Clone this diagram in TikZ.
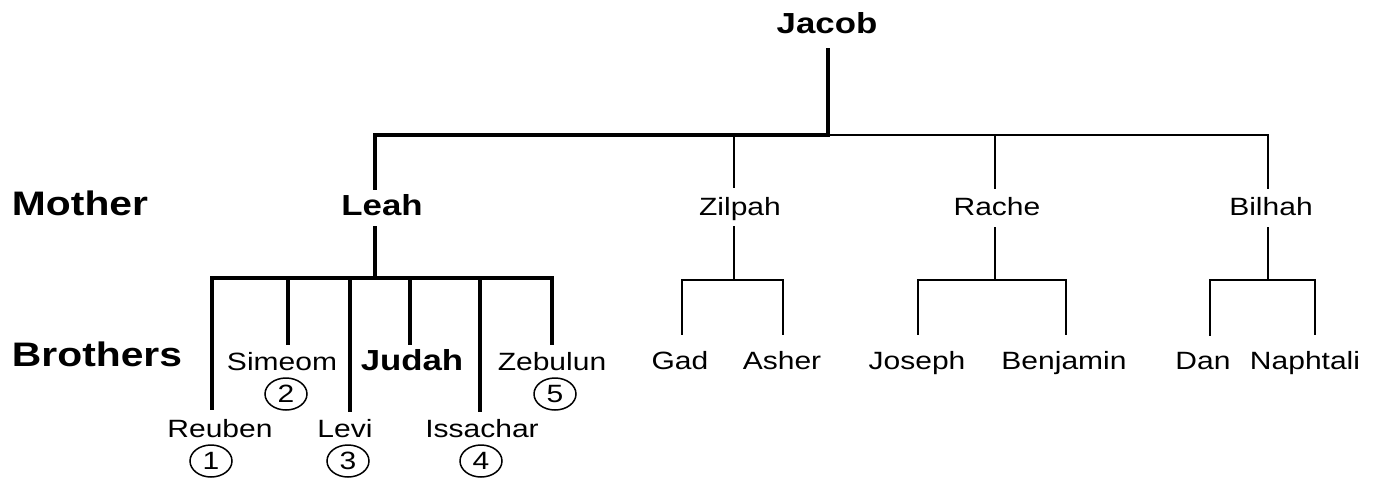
\documentclass[tikz,border=0pt]{standalone}
\usepackage{fontspec}
\newfontfamily\namefont[FakeStretch=1.2]{Liberation Sans}
\usetikzlibrary{shapes.geometric,calc}
\tikzset{
 every node/.style={inner sep=0pt, outer sep=0pt},
 nm/.style={font=\namefont\fontsize{25pt}{30pt}\selectfont, anchor=base},
 bnm/.style={font=\namefont\bfseries\fontsize{29pt}{34pt}\selectfont, anchor=base},
 hdr/.style={font=\namefont\bfseries\fontsize{34pt}{40pt}\selectfont, anchor=base west},
 num/.style={ellipse, draw, line width=1.5pt, minimum width=42pt, minimum height=32pt, font=\namefont\fontsize{25pt}{30pt}\selectfont},
 thk/.style={line width=4.5pt},
 thn/.style={line width=2.2pt},
}
\begin{document}
\begin{tikzpicture}[x=1pt,y=-1pt]
\useasboundingbox (0,0) rectangle (1376,480);
% headers
\node[hdr] (mother) at (12,215) {Mother};
\node[hdr] (brothers) at (12,366) {Brothers};
% names
\node[bnm] (jacob) at (827,33) {Jacob};
\node[bnm] (leah) at (382,215) {Leah};
\node[nm] (zilpah) at (740,215) {Zilpah};
\node[nm] (rache) at (997,215) {Rache};
\node[nm] (bilhah) at (1271,215) {Bilhah};
\node[nm] (simeom) at (282,370) {Simeom};
\node[bnm] (judah) at (412,370) {Judah};
\node[nm] (zebulun) at (552,370) {Zebulun};
\node[nm] (reuben) at (220,437) {Reuben};
\node[nm] (levi) at (345,437) {Levi};
\node[nm] (issachar) at (482,437) {Issachar};
\node[nm] (gad) at (680,369) {Gad};
\node[nm] (asher) at (782,369) {Asher};
\node[nm] (joseph) at (917,369) {Joseph};
\node[nm] (benjamin) at (1064,369) {Benjamin};
\node[nm] (dan) at (1203,369) {Dan};
\node[nm] (naphtali) at (1305,369) {Naphtali};
% birth order
\node[num] (n1) at (211,461) {1};
\node[num] (n2) at (286,394) {2};
\node[num] (n3) at (348,461) {3};
\node[num] (n4) at (481,461) {4};
\node[num] (n5) at (555,394) {5};
% junctions
\coordinate (jbar) at (828,135);
\coordinate (lbar) at (375,278);
\coordinate (zbar) at (734,280);
\coordinate (rbar) at (995,280);
\coordinate (bbar) at (1268,280);
% Jacob to mothers
\draw[thk] ($(jacob.south)+(1,15)$) -- (jbar) -| ($(leah.north)+(-7,-4)$);
\draw[thn] (jbar) -| ($(bilhah.north)+(-3,-8)$);
\draw[thn] ($(zilpah.north)+(-6,-9)$) coordinate (t) -- (t |- jbar);
\draw[thn] ($(rache.north)+(-2,-8)$) coordinate (t) -- (t |- jbar);
% Leah
\draw[thk] ($(leah.south)+(-7,11)$) -- (lbar);
\draw[thk] ($(reuben.north)+(-8,-9)$) |- (lbar) -| ($(zebulun.north)+(0,-7)$);
\draw[thk] ($(simeom.north)+(6,-7)$) coordinate (t) -- (t |- lbar);
\draw[thk] ($(levi.north)+(5,-7)$) coordinate (t) -- (t |- lbar);
\draw[thk] ($(judah.north)+(-2,-4)$) coordinate (t) -- (t |- lbar);
\draw[thk] ($(issachar.north)+(-2,-7)$) coordinate (t) -- (t |- lbar);
% Zilpah
\draw[thn] ($(zilpah.south)+(-6,6)$) -- (zbar);
\draw[thn] ($(gad.north)+(2,-16)$) |- (zbar) -| ($(asher.north)+(1,-16)$);
% Rache
\draw[thn] ($(rache.south)+(-2,12)$) -- (rbar);
\draw[thn] ($(joseph.north)+(1,-16)$) |- (rbar) -| ($(benjamin.north)+(2,-16)$);
% Bilhah
\draw[thn] ($(bilhah.south)+(-3,12)$) -- (bbar);
\draw[thn] ($(dan.north)+(7,-16)$) |- (bbar) -| ($(naphtali.north)+(10,-16)$);
\end{tikzpicture}
\end{document}
